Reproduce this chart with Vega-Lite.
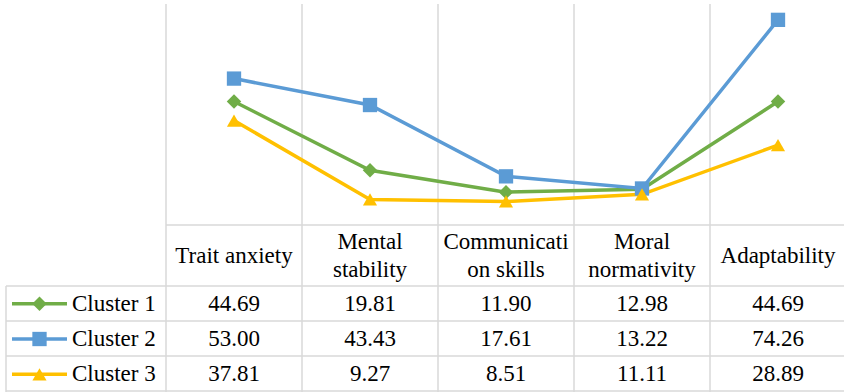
{
  "$schema": "https://vega.github.io/schema/vega-lite/v6.json",
  "width": 844,
  "height": 392,
  "padding": 0,
  "autosize": {"type": "none"},
  "background": "white",
  "config": {"view": {"stroke": null}, "axis": {"disable": true}, "legend": {"disable": true}},
  "datasets": {
    "scores": [
      {"cluster": "Cluster 1", "category": "Trait anxiety", "value": 44.69},
      {"cluster": "Cluster 1", "category": "Mental stability", "value": 19.81},
      {"cluster": "Cluster 1", "category": "Communication skills", "value": 11.90},
      {"cluster": "Cluster 1", "category": "Moral normativity", "value": 12.98},
      {"cluster": "Cluster 1", "category": "Adaptability", "value": 44.69},
      {"cluster": "Cluster 2", "category": "Trait anxiety", "value": 53.00},
      {"cluster": "Cluster 2", "category": "Mental stability", "value": 43.43},
      {"cluster": "Cluster 2", "category": "Communication skills", "value": 17.61},
      {"cluster": "Cluster 2", "category": "Moral normativity", "value": 13.22},
      {"cluster": "Cluster 2", "category": "Adaptability", "value": 74.26},
      {"cluster": "Cluster 3", "category": "Trait anxiety", "value": 37.81},
      {"cluster": "Cluster 3", "category": "Mental stability", "value": 9.27},
      {"cluster": "Cluster 3", "category": "Communication skills", "value": 8.51},
      {"cluster": "Cluster 3", "category": "Moral normativity", "value": 11.11},
      {"cluster": "Cluster 3", "category": "Adaptability", "value": 28.89}
    ],
    "cats": [
      {"category": "Trait anxiety", "label": ["Trait anxiety"]},
      {"category": "Mental stability", "label": ["Mental", "stability"]},
      {"category": "Communication skills", "label": ["Communicati", "on skills"]},
      {"category": "Moral normativity", "label": ["Moral", "normativity"]},
      {"category": "Adaptability", "label": ["Adaptability"]}
    ],
    "clusters": [
      {"cluster": "Cluster 1"},
      {"cluster": "Cluster 2"},
      {"cluster": "Cluster 3"}
    ]
  },
  "resolve": {"scale": {"x": "independent", "y": "independent"}},
  "layer": [
    {
      "data": {"name": "cats"},
      "mark": {"type": "rule", "color": "#D9D9D9", "strokeWidth": 1.5},
      "encoding": {
        "x": {"field": "category", "type": "nominal", "bandPosition": 0,
              "scale": {"type": "band", "domain": ["Trait anxiety", "Mental stability", "Communication skills", "Moral normativity", "Adaptability"], "range": [166, 846], "paddingInner": 0, "paddingOuter": 0}},
        "y": {"datum": 0, "type": "quantitative", "scale": {"domain": [0, 1], "range": [4, 392], "nice": false, "zero": false}},
        "y2": {"datum": 1}
      }
    },
    {
      "data": {"values": [{"k": 1}]},
      "mark": {"type": "rule", "color": "#D9D9D9", "strokeWidth": 1.5},
      "encoding": {
        "x": {"datum": 0, "type": "quantitative", "scale": {"domain": [0, 1], "range": [166, 844], "nice": false, "zero": false}},
        "x2": {"datum": 1},
        "y": {"datum": 0, "type": "quantitative", "scale": {"domain": [0, 80], "range": [225, 4], "nice": false, "zero": false}}
      }
    },
    {
      "data": {"values": [{"k": 1}]},
      "mark": {"type": "rule", "color": "#D9D9D9", "strokeWidth": 1.5},
      "encoding": {
        "x": {"datum": 0, "type": "quantitative", "scale": {"domain": [0, 1], "range": [6, 844], "nice": false, "zero": false}},
        "y": {"datum": 0, "type": "quantitative", "scale": {"domain": [0, 1], "range": [286, 392], "nice": false, "zero": false}},
        "y2": {"datum": 1}
      }
    },
    {
      "data": {"name": "clusters"},
      "mark": {"type": "rule", "color": "#D9D9D9", "strokeWidth": 1.5},
      "encoding": {
        "x": {"datum": 0, "type": "quantitative", "scale": {"domain": [0, 1], "range": [6, 844], "nice": false, "zero": false}},
        "x2": {"datum": 1},
        "y": {"field": "cluster", "type": "nominal", "bandPosition": 0,
              "scale": {"type": "band", "domain": ["Cluster 1", "Cluster 2", "Cluster 3"], "range": [286, 391], "paddingInner": 0, "paddingOuter": 0}}
      }
    },
    {
      "data": {"values": [{"k": 1}]},
      "mark": {"type": "rule", "color": "#D9D9D9", "strokeWidth": 1.5},
      "encoding": {
        "x": {"datum": 0, "type": "quantitative", "scale": {"domain": [0, 1], "range": [6, 844], "nice": false, "zero": false}},
        "x2": {"datum": 1},
        "y": {"datum": 1, "type": "quantitative", "scale": {"domain": [0, 1], "range": [286, 391], "nice": false, "zero": false}}
      }
    },
    {
      "data": {"name": "scores"},
      "mark": {"type": "line", "strokeWidth": 3.5},
      "encoding": {
        "x": {"field": "category", "type": "nominal", "bandPosition": 0.5,
              "scale": {"type": "band", "domain": ["Trait anxiety", "Mental stability", "Communication skills", "Moral normativity", "Adaptability"], "range": [166, 846], "paddingInner": 0, "paddingOuter": 0}},
        "y": {"field": "value", "type": "quantitative", "scale": {"domain": [0, 80], "range": [225, 4], "nice": false, "zero": false}},
        "color": {"field": "cluster", "type": "nominal", "scale": {"domain": ["Cluster 1", "Cluster 2", "Cluster 3"], "range": ["#70AD47", "#5B9BD5", "#FFC000"]}},
        "order": {"field": "cluster"}
      }
    },
    {
      "data": {"name": "scores"},
      "mark": {"type": "point", "filled": true, "opacity": 1},
      "encoding": {
        "x": {"field": "category", "type": "nominal", "bandPosition": 0.5,
              "scale": {"type": "band", "domain": ["Trait anxiety", "Mental stability", "Communication skills", "Moral normativity", "Adaptability"], "range": [166, 846], "paddingInner": 0, "paddingOuter": 0}},
        "y": {"field": "value", "type": "quantitative", "scale": {"domain": [0, 80], "range": [225, 4], "nice": false, "zero": false}},
        "color": {"field": "cluster", "type": "nominal", "scale": {"domain": ["Cluster 1", "Cluster 2", "Cluster 3"], "range": ["#70AD47", "#5B9BD5", "#FFC000"]}},
        "shape": {"field": "cluster", "type": "nominal", "scale": {"domain": ["Cluster 1", "Cluster 2", "Cluster 3"], "range": ["diamond", "square", "triangle-up"]}},
        "size": {"field": "cluster", "type": "nominal", "scale": {"domain": ["Cluster 1", "Cluster 2", "Cluster 3"], "range": [210, 200, 260]}}
      }
    },
    {
      "data": {"name": "cats"},
      "transform": [{"filter": "length(datum.label) == 1"}],
      "mark": {"type": "text", "font": "Liberation Serif", "fontSize": 23, "align": "center", "baseline": "middle"},
      "encoding": {
        "x": {"field": "category", "type": "nominal", "bandPosition": 0.5,
              "scale": {"type": "band", "domain": ["Trait anxiety", "Mental stability", "Communication skills", "Moral normativity", "Adaptability"], "range": [166, 846], "paddingInner": 0, "paddingOuter": 0}},
        "y": {"datum": 0.5, "type": "quantitative", "scale": {"domain": [0, 1], "range": [225, 286], "nice": false, "zero": false}},
        "text": {"field": "label"}
      }
    },
    {
      "data": {"name": "cats"},
      "transform": [{"filter": "length(datum.label) == 2"}],
      "mark": {"type": "text", "font": "Liberation Serif", "fontSize": 23, "align": "center", "baseline": "middle", "lineHeight": 28},
      "encoding": {
        "x": {"field": "category", "type": "nominal", "bandPosition": 0.5,
              "scale": {"type": "band", "domain": ["Trait anxiety", "Mental stability", "Communication skills", "Moral normativity", "Adaptability"], "range": [166, 846], "paddingInner": 0, "paddingOuter": 0}},
        "y": {"datum": 0.275, "type": "quantitative", "scale": {"domain": [0, 1], "range": [225, 286], "nice": false, "zero": false}},
        "text": {"field": "label"}
      }
    },
    {
      "data": {"name": "scores"},
      "mark": {"type": "text", "font": "Liberation Serif", "fontSize": 23, "align": "center", "baseline": "middle"},
      "encoding": {
        "x": {"field": "category", "type": "nominal", "bandPosition": 0.5,
              "scale": {"type": "band", "domain": ["Trait anxiety", "Mental stability", "Communication skills", "Moral normativity", "Adaptability"], "range": [166, 846], "paddingInner": 0, "paddingOuter": 0}},
        "y": {"field": "cluster", "type": "nominal", "bandPosition": 0.5,
              "scale": {"type": "band", "domain": ["Cluster 1", "Cluster 2", "Cluster 3"], "range": [286, 392], "paddingInner": 0, "paddingOuter": 0}},
        "text": {"field": "value", "type": "quantitative", "format": ".2f"}
      }
    },
    {
      "data": {"name": "clusters"},
      "mark": {"type": "rule", "strokeWidth": 3.5},
      "encoding": {
        "x": {"datum": 0, "type": "quantitative", "scale": {"domain": [0, 1], "range": [12, 67], "nice": false, "zero": false}},
        "x2": {"datum": 1},
        "y": {"field": "cluster", "type": "nominal", "bandPosition": 0.5,
              "scale": {"type": "band", "domain": ["Cluster 1", "Cluster 2", "Cluster 3"], "range": [286, 392], "paddingInner": 0, "paddingOuter": 0}},
        "color": {"field": "cluster", "type": "nominal", "scale": {"domain": ["Cluster 1", "Cluster 2", "Cluster 3"], "range": ["#70AD47", "#5B9BD5", "#FFC000"]}}
      }
    },
    {
      "data": {"name": "clusters"},
      "mark": {"type": "point", "filled": true, "opacity": 1},
      "encoding": {
        "x": {"datum": 0.5, "type": "quantitative", "scale": {"domain": [0, 1], "range": [12, 67], "nice": false, "zero": false}},
        "y": {"field": "cluster", "type": "nominal", "bandPosition": 0.5,
              "scale": {"type": "band", "domain": ["Cluster 1", "Cluster 2", "Cluster 3"], "range": [286, 392], "paddingInner": 0, "paddingOuter": 0}},
        "color": {"field": "cluster", "type": "nominal", "scale": {"domain": ["Cluster 1", "Cluster 2", "Cluster 3"], "range": ["#70AD47", "#5B9BD5", "#FFC000"]}},
        "shape": {"field": "cluster", "type": "nominal", "scale": {"domain": ["Cluster 1", "Cluster 2", "Cluster 3"], "range": ["diamond", "square", "triangle-up"]}},
        "size": {"field": "cluster", "type": "nominal", "scale": {"domain": ["Cluster 1", "Cluster 2", "Cluster 3"], "range": [180, 180, 220]}}
      }
    },
    {
      "data": {"name": "clusters"},
      "mark": {"type": "text", "font": "Liberation Serif", "fontSize": 23, "align": "left", "baseline": "middle", "dx": 5},
      "encoding": {
        "x": {"datum": 1, "type": "quantitative", "scale": {"domain": [0, 1], "range": [12, 67], "nice": false, "zero": false}},
        "y": {"field": "cluster", "type": "nominal", "bandPosition": 0.5,
              "scale": {"type": "band", "domain": ["Cluster 1", "Cluster 2", "Cluster 3"], "range": [286, 392], "paddingInner": 0, "paddingOuter": 0}},
        "text": {"field": "cluster"}
      }
    }
  ]
}
